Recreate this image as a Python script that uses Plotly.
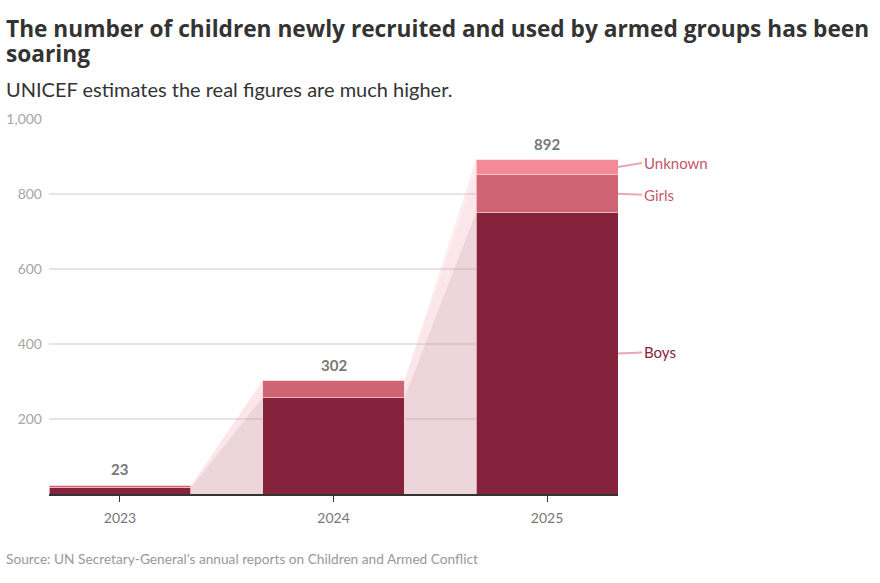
import plotly.graph_objects as go

years = ["2023", "2024", "2025"]
boys = [17, 257, 750]
girls = [6, 45, 102]
unknown = [0, 0, 40]
totals = [23, 302, 892]

c_boys = "#85233d"
c_girls = "#cf6475"
c_unknown = "#f48a98"
w = 0.665  # bar width
xs = list(range(len(years)))

fig = go.Figure()

# connector areas between bars (drawn first, behind bars)
cum_boys = boys
cum_girls = [b + g for b, g in zip(boys, girls)]
cum_total = [b + g + u for b, g, u in zip(boys, girls, unknown)]
levels = [(cum_total, "rgba(240,170,180,0.22)"),
          (cum_girls, "rgba(240,170,180,0.08)"),
          (cum_boys, "rgba(120,80,90,0.10)")]
for i in range(len(years) - 1):
    for ys, col in levels:
        fig.add_trace(go.Scatter(
            x=[xs[i] + w / 2, xs[i + 1] - w / 2], y=[ys[i], ys[i + 1]],
            mode="lines", line=dict(width=0), fill="tozeroy", fillcolor=col,
            hoverinfo="skip", showlegend=False))

for name, vals, col in [("Boys", boys, c_boys), ("Girls", girls, c_girls),
                        ("Unknown", unknown, c_unknown)]:
    fig.add_trace(go.Bar(
        x=xs, y=vals, name=name, width=w, marker_color=col,
        marker_line=dict(color="rgba(255,215,222,0.7)", width=1),
        showlegend=False))

fig.update_layout(
    barmode="stack",
    width=880, height=583,
    margin=dict(l=49, r=262, t=119, b=89),
    paper_bgcolor="white", plot_bgcolor="white",
    font=dict(family="Lato", color="#333"),
    xaxis=dict(range=[-w / 2, 2 + w / 2], tickvals=xs, ticktext=years,
               showgrid=False, zeroline=False, showline=True,
               linecolor="#333", linewidth=2,
               ticks="outside", ticklen=6, tickwidth=1, tickcolor="#333",
               tickfont=dict(size=14, color="#777"), ticklabelstandoff=4,
               automargin=False),
    yaxis=dict(range=[0, 1000], tickvals=[200, 400, 600, 800, 1000],
               tickformat=",", showgrid=True, gridcolor="#e5e5e5", gridwidth=1.5,
               zeroline=False, showline=False, ticks="",
               tickfont=dict(size=14, color="#a6a6a6"), ticklabelstandoff=6,
               automargin=False),
)

# total labels
for x, t in zip(xs, totals):
    fig.add_annotation(x=x, y=t, text="<b>%d</b>" % t, showarrow=False,
                       yanchor="bottom", yshift=5,
                       font=dict(size=15, color="#777"))

# series labels on the right of the last bar
last = len(years) - 1
label_specs = [("Unknown", cum_girls[last] + unknown[last] / 2, -4, "#c4566c"),
               ("Girls", cum_boys[last] + girls[last] / 2, 1, "#c8596d"),
               ("Boys", boys[last] / 2, -1, c_boys)]
for name, ymid, ay, col in label_specs:
    fig.add_annotation(x=last + w / 2, y=ymid, text=name, showarrow=True,
                       arrowhead=0, arrowwidth=2, arrowcolor="#e6a9b4",
                       ax=24, ay=ay, xanchor="left",
                       font=dict(size=15, color=col))

px_x = -45 / 569  # ~7px from the left edge, in paper units
title_lines = ["The number of children newly recruited and used by armed groups has been",
               "soaring"]
for line, ypx in zip(title_lines, [28, 53]):
    fig.add_annotation(text="<b>%s</b>" % line,
                       xref="paper", yref="paper", x=px_x, y=(494 - ypx) / 375,
                       xanchor="left", yanchor="middle", showarrow=False,
                       font=dict(family="Open Sans", size=22.7, color="#333"))
fig.add_annotation(text="UNICEF estimates the real figures are much higher.",
                   xref="paper", yref="paper", x=px_x, y=(494 - 89) / 375,
                   xanchor="left", yanchor="middle", showarrow=False,
                   font=dict(size=20, color="#333"))
fig.add_annotation(text="Source: UN Secretary-General\u2019s annual reports on Children and Armed Conflict",
                   xref="paper", yref="paper", x=px_x, y=(494 - 558) / 375,
                   xanchor="left", yanchor="middle", showarrow=False,
                   font=dict(size=13.7, color="#999"))

fig.write_html("out.html", config={"displayModeBar": False},
               post_script="document.body.style.margin='0';")
